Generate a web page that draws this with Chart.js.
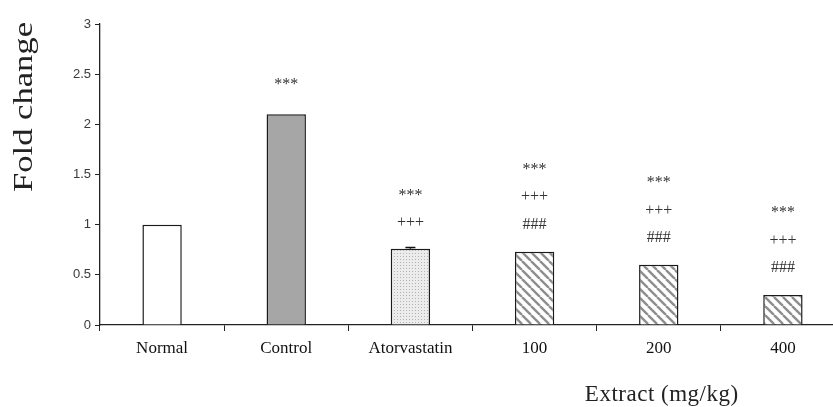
<!DOCTYPE html>
<html>
<head>
<meta charset="utf-8">
<script src="https://cdn.jsdelivr.net/npm/chart.js@4"></script>
<style>
  html, body { margin: 0; padding: 0; background: #fff; overflow: hidden; }
  #wrap { width: 850px; height: 407px; }
</style>
</head>
<body>
<div id="wrap"><canvas id="c" width="850" height="407"></canvas></div>
<script>
// Groups and measured fold change
const categories = ['Normal', 'Control', 'Atorvastatin', '100', '200', '400'];
const foldChange = [1.0, 2.1, 0.76, 0.73, 0.60, 0.30];
const errors = [0, 0, 0.012, 0, 0, 0];
// Significance marks, listed bottom-up above each bar
const hashMarks = ['', '', '', '###', '###', '###'];
const plusMarks = ['', '', '+++', '+++', '+++', '+++'];
const starMarks = ['', '***', '***', '***', '***', '***'];
const yTicks = [0, 0.5, 1, 1.5, 2, 2.5, 3];

function makeStipple() {
  const t = document.createElement('canvas');
  t.width = 3; t.height = 3;
  const g = t.getContext('2d');
  g.fillStyle = '#ececec';
  g.fillRect(0, 0, 3, 3);
  g.fillStyle = '#b4b4b4';
  g.fillRect(1, 1, 1, 1);
  return g.createPattern(t, 'repeat');
}

function makeHatch() {
  const s = 9;
  const t = document.createElement('canvas');
  t.width = s; t.height = s;
  const g = t.getContext('2d');
  g.fillStyle = '#ffffff';
  g.fillRect(0, 0, s, s);
  g.strokeStyle = '#8e8e8e';
  g.lineWidth = 2.4;
  g.beginPath();
  for (let k = -1; k <= 1; k++) {
    g.moveTo(k * s, 0);
    g.lineTo(k * s + s, s);
  }
  g.stroke();
  return g.createPattern(t, 'repeat');
}

const hatch = makeHatch();
const fills = ['#ffffff', '#a6a6a6', makeStipple(), hatch, hatch, hatch];

const serif = '"Liberation Serif", "Times New Roman", serif';
const sans = '"Liberation Sans", Arial, sans-serif';

// Glyph centre offsets (fraction of em above baseline)
const glyphCentre = { '*': 0.46, '+': 0.39, '#': 0.32 };

const overlay = {
  id: 'overlay',
  afterDatasetsDraw(chart) {
    const ctx = chart.ctx;
    const ys = chart.scales.y;
    const meta = chart.getDatasetMeta(0);
    ctx.save();
    // error caps
    ctx.strokeStyle = '#111';
    ctx.lineWidth = 1.5;
    errors.forEach((e, i) => {
      if (!e) return;
      const x = meta.data[i].x;
      const y0 = ys.getPixelForValue(foldChange[i]);
      const y1 = ys.getPixelForValue(foldChange[i] + e);
      ctx.beginPath();
      ctx.moveTo(x, y0); ctx.lineTo(x, y1);
      ctx.moveTo(x - 5, y1); ctx.lineTo(x + 5, y1);
      ctx.stroke();
    });
    // significance marks
    const fs = 16;
    ctx.font = fs + 'px ' + serif;
    ctx.fillStyle = '#333';
    ctx.textAlign = 'center';
    ctx.textBaseline = 'alphabetic';
    categories.forEach((c, i) => {
      const stack = [hashMarks[i], plusMarks[i], starMarks[i]].filter(s => s);
      const top = ys.getPixelForValue(foldChange[i]);
      const x = meta.data[i].x;
      const first = stack.length === 1 ? 33 : 28;
      stack.forEach((s, k) => {
        const centre = top - first - k * 28.5;
        ctx.fillText(s, x, centre + glyphCentre[s[0]] * fs);
      });
    });
    ctx.restore();
  },
  afterDraw(chart) {
    const ctx = chart.ctx;
    const xs = chart.scales.x, ys = chart.scales.y;
    ctx.save();
    ctx.fillStyle = '#222';
    // y title, stretched along its length
    ctx.font = '27px ' + serif;
    const w = ctx.measureText('Fold change').width;
    ctx.translate(25, ys.top - 2);
    ctx.rotate(-Math.PI / 2);
    ctx.scale(170 / w, 1);
    ctx.textAlign = 'right';
    ctx.textBaseline = 'middle';
    ctx.fillText('Fold change', 0, 0);
    ctx.restore();
    // x title under the extract groups
    ctx.save();
    ctx.fillStyle = '#222';
    ctx.font = '23px ' + serif;
    ctx.letterSpacing = '0.5px';
    ctx.textAlign = 'center';
    ctx.textBaseline = 'middle';
    ctx.fillText('Extract (mg/kg)', xs.getPixelForValue(4) + 3, 395);
    ctx.restore();
  }
};

new Chart(document.getElementById('c'), {
  type: 'bar',
  data: {
    labels: categories,
    datasets: [{
      data: foldChange,
      backgroundColor: fills,
      borderColor: '#1a1a1a',
      borderWidth: 1.5,
      borderSkipped: 'start',
      categoryPercentage: 1,
      barPercentage: 0.317
    }]
  },
  options: {
    responsive: false,
    animation: false,
    layout: { padding: { top: 24, right: 5, left: 0, bottom: 0 } },
    plugins: { legend: { display: false }, tooltip: { enabled: false } },
    scales: {
      x: {
        grid: { display: true, drawOnChartArea: false, tickLength: 6, color: '#222', offset: true },
        border: { display: true, color: '#222', width: 1.3 },
        ticks: { color: '#111', font: { family: serif, size: 17 }, padding: 7, maxRotation: 0, autoSkip: false },
        afterFit(scale) { scale.height = 82; }
      },
      y: {
        min: 0, max: 3,
        afterBuildTicks(scale) { scale.ticks = yTicks.map(v => ({ value: v })); },
        grid: { display: true, drawOnChartArea: false, tickLength: 5, color: '#222' },
        border: { display: true, color: '#222', width: 1.3 },
        ticks: { color: '#3a3a3a', font: { family: sans, size: 13 }, padding: 4, callback: v => String(v) },
        afterFit(scale) { scale.width = 100; }
      }
    }
  },
  plugins: [overlay]
});
</script>
</body>
</html>
